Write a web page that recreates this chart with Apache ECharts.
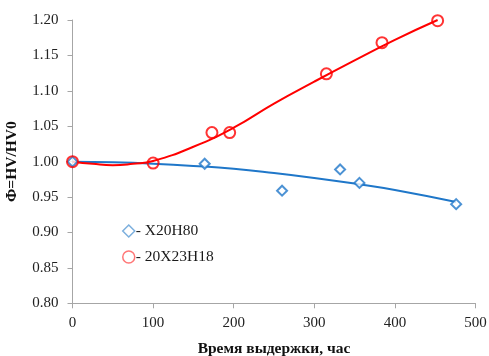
<!DOCTYPE html>
<html>
<head>
<meta charset="utf-8">
<script src="https://cdn.jsdelivr.net/npm/echarts@6/dist/echarts.min.js"></script>
<style>
  html, body { margin: 0; padding: 0; background: #fff; }
  #chart { width: 489px; height: 356px; }
</style>
</head>
<body>
<div id="chart"></div>
<script>
// Measured hardness ratio vs. holding time
const alloyNames = ['Х20Н80', '20Х23Н18'];

const timeA = [0, 164, 260, 332, 356, 476];
const phiA  = [1.000, 0.997, 0.959, 0.989, 0.970, 0.940];

const timeB = [0, 100, 173, 195, 315, 384, 453];
const phiB  = [1.000, 0.998, 1.041, 1.041, 1.124, 1.168, 1.199];

// Trend curves (smoothed fit lines)
const trendTimeA = [0, 50, 100, 150, 200, 250, 300, 350, 400, 476];
const trendPhiA  = [1.000, 0.999, 0.997, 0.994, 0.990, 0.984, 0.977, 0.969, 0.960, 0.943];

const trendTimeB = [0, 25, 50, 75, 100, 150, 200, 250, 300, 350, 400, 453];
const trendPhiB  = [1.000, 0.997, 0.995, 0.997, 1.001, 1.021, 1.048, 1.082, 1.113, 1.143, 1.172, 1.200];

const xTicks = { min: 0, max: 500, interval: 100 };
const yTicks = { min: 0.80, max: 1.20, interval: 0.05 };

const blue = '#1f77c9';
const red = '#ff0000';
const serif = '"Liberation Serif", "Times New Roman", serif';

const pairs = (xs, ys) => xs.map((x, i) => [x, ys[i]]);

const chart = echarts.init(document.getElementById('chart'), null, { renderer: 'canvas' });
chart.setOption({
  animation: false,
  backgroundColor: '#fff',
  grid: { left: 72.5, right: 13.5, top: 20, bottom: 52.7, containLabel: false, outerBoundsMode: 'none' },
  legend: {
    orient: 'vertical',
    left: 117,
    top: 218,
    itemGap: 10,
    itemWidth: 12,
    itemHeight: 12,
    formatter: name => '- ' + name,
    textStyle: { fontFamily: serif, fontSize: 15.5, color: '#1a1a1a', padding: [0, 0, 0, -4] },
    data: [
      { name: alloyNames[0], icon: 'diamond', itemStyle: { color: '#fff', borderColor: '#5b9bd5', borderWidth: 1.5 } },
      { name: alloyNames[1], icon: 'circle', itemStyle: { color: '#fff', borderColor: '#ff5555', borderWidth: 1.5 } }
    ]
  },
  xAxis: {
    type: 'value',
    min: xTicks.min, max: xTicks.max, interval: xTicks.interval,
    name: 'Время выдержки, час',
    nameLocation: 'middle',
    nameGap: 38,
    nameTextStyle: { fontFamily: serif, fontSize: 15.5, fontWeight: 'bold', color: '#111' },
    axisLine: { lineStyle: { color: '#a6a6a6', width: 1 } },
    axisTick: { show: true, length: 5, lineStyle: { color: '#a6a6a6' } },
    axisLabel: { fontFamily: serif, fontSize: 15, color: '#222', margin: 12 },
    splitLine: { show: false }
  },
  yAxis: {
    type: 'value',
    min: yTicks.min, max: yTicks.max, interval: yTicks.interval,
    name: 'Ф=HV/HV0',
    nameLocation: 'middle',
    nameGap: 53,
    nameTextStyle: { fontFamily: serif, fontSize: 15.5, fontWeight: 'bold', color: '#111' },
    axisLine: { show: true, lineStyle: { color: '#a6a6a6', width: 1 } },
    axisTick: { show: true, length: 5, lineStyle: { color: '#a6a6a6' } },
    axisLabel: { fontFamily: serif, fontSize: 15, color: '#222', margin: 14,
      formatter: v => v.toFixed(2) },
    splitLine: { show: false }
  },
  series: [
    {
      name: alloyNames[0] + ' trend',
      type: 'line',
      data: pairs(trendTimeA, trendPhiA),
      smooth: true,
      showSymbol: false,
      lineStyle: { color: blue, width: 2 },
      z: 2
    },
    {
      name: alloyNames[1] + ' trend',
      type: 'line',
      data: pairs(trendTimeB, trendPhiB),
      smooth: true,
      showSymbol: false,
      lineStyle: { color: red, width: 2 },
      z: 2
    },
    {
      name: alloyNames[0],
      type: 'scatter',
      data: pairs(timeA, phiA),
      symbol: 'diamond',
      symbolSize: 10,
      itemStyle: { color: '#fff', borderColor: blue, borderWidth: 2 },
      z: 3
    },
    {
      name: alloyNames[1],
      type: 'scatter',
      data: pairs(timeB, phiB),
      symbol: 'circle',
      symbolSize: 11,
      itemStyle: { color: 'rgba(255,255,255,0)', borderColor: red, borderWidth: 2 },
      z: 3
    }
  ]
});
</script>
</body>
</html>
